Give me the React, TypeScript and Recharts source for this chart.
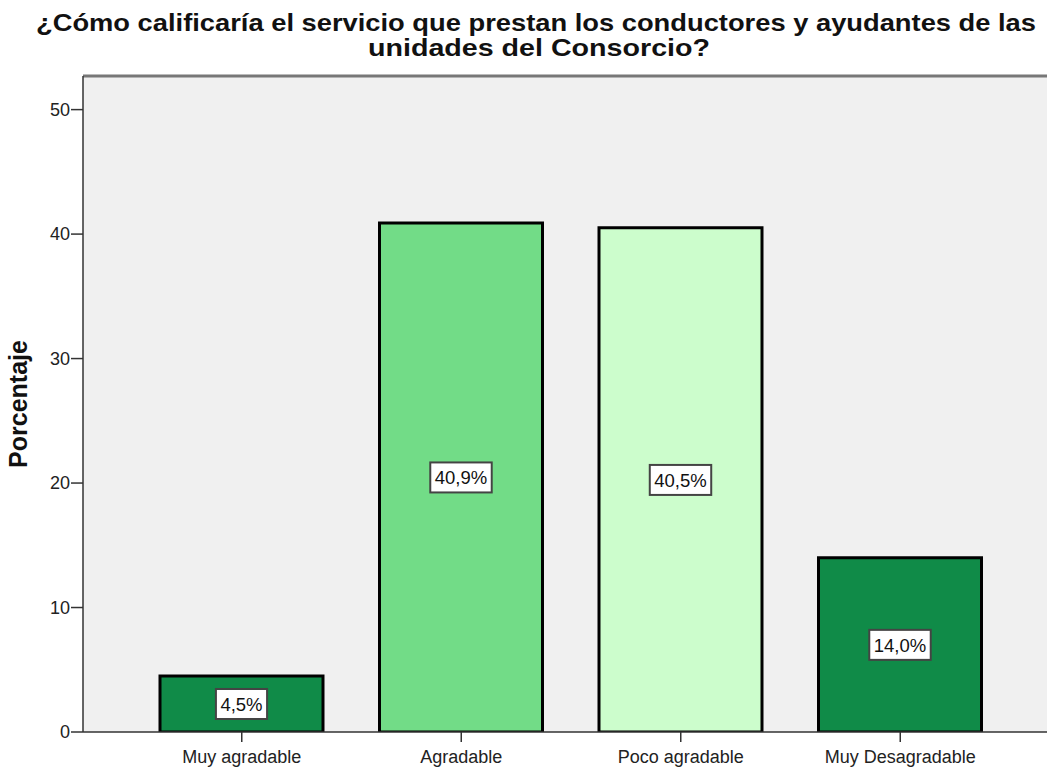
import React from 'react';
import { BarChart, Bar, XAxis, YAxis, CartesianGrid, Cell, LabelList, ReferenceLine } from 'recharts';

const categories = ['Muy agradable', 'Agradable', 'Poco agradable', 'Muy Desagradable'];
const percentages = [4.5, 40.9, 40.5, 14.0];
const barColors = ['#108b48', '#72dc87', '#ccfdcc', '#108b48'];
const yTicks = [0, 10, 20, 30, 40, 50];
const titleLines = [
  '¿Cómo calificaría el servicio que prestan los conductores y ayudantes de las',
  'unidades del Consorcio?',
];
const yAxisTitle = 'Porcentaje';

const data = categories.map((name, i) => ({ name, value: percentages[i] }));

const FONT = '"Liberation Sans", Arial, Helvetica, sans-serif';
const Y_MAX = 52.7;

const charW: Record<string, number> = { ',': 0.278, '%': 0.889 };
const measure = (s: string, size: number) =>
  s.split('').reduce((acc, c) => acc + (charW[c] ?? 0.556), 0) * size;

const fmt = (v: number) => v.toFixed(1).replace('.', ',') + '%';

const renderLabel = (props: any) => {
  const { x, y, width, height, value } = props;
  const text = fmt(Number(value));
  const fs = 18.5;
  const tw = measure(text, fs);
  const bw = tw + 9;
  const bh = 30;
  const cx = Number(x) + Number(width) / 2;
  const cy = Number(y) + Number(height) / 2;
  return (
    <g>
      <rect x={cx - bw / 2} y={cy - bh / 2} width={bw} height={bh} fill="#ffffff" stroke="#444" strokeWidth={2} />
      <text x={cx} y={cy + fs * 0.36} textAnchor="middle" fontSize={fs} fontFamily={FONT} fill="#111">
        {text}
      </text>
    </g>
  );
};

export default function App() {
  return (
    <div style={{ position: 'absolute', left: 0, top: 0, width: 1047, height: 767, overflow: 'hidden', background: '#fff' }}>
      <div style={{ position: 'absolute', left: 0, top: 0 }}>
        <BarChart
          width={1070}
          height={767}
          data={data}
          margin={{ top: 76, right: 11, bottom: 5, left: 23 }}
        >
          <CartesianGrid fill="#f0f0f0" horizontal={false} vertical={false} />
          <XAxis
            dataKey="name"
            padding={{ left: 49, right: 49 }}
            tickSize={10}
            tickMargin={8}
            stroke="#333"
            tick={{ fill: '#222', fontSize: 18, fontFamily: FONT }}
            tickLine={{ stroke: '#333', strokeWidth: 1.5 }}
            axisLine={{ stroke: '#333', strokeWidth: 1.5 }}
            interval={0}
          />
          <YAxis
            width={60}
            domain={[0, Y_MAX]}
            ticks={yTicks}
            allowDataOverflow
            tickSize={12}
            tickMargin={1}
            tick={{ fill: '#222', fontSize: 18, fontFamily: FONT }}
            tickLine={{ stroke: '#333', strokeWidth: 1.5 }}
            axisLine={{ stroke: '#333', strokeWidth: 1.5 }}
          />
          <ReferenceLine y={Y_MAX} stroke="#777" strokeWidth={3} ifOverflow="visible" />
          <Bar dataKey="value" barSize={163} stroke="#000" strokeWidth={3} isAnimationActive={false}>
            {data.map((d, i) => (
              <Cell key={d.name} fill={barColors[i]} />
            ))}
            <LabelList dataKey="value" content={renderLabel} />
          </Bar>
        </BarChart>
      </div>
      <svg width={1047} height={767} style={{ position: 'absolute', left: 0, top: 0, pointerEvents: 'none' }}>
        <text
          x={36}
          y={31}
          textLength={1000}
          lengthAdjust="spacingAndGlyphs"
          fontSize={24}
          fontWeight="bold"
          fontFamily={FONT}
          fill="#111"
        >
          {titleLines[0]}
        </text>
        <text
          x={368}
          y={56}
          textLength={342}
          lengthAdjust="spacingAndGlyphs"
          fontSize={24}
          fontWeight="bold"
          fontFamily={FONT}
          fill="#111"
        >
          {titleLines[1]}
        </text>
        <text
          x={27}
          y={404}
          textAnchor="middle"
          fontSize={25}
          fontWeight="bold"
          fontFamily={FONT}
          fill="#111"
          transform="rotate(-90, 27, 404)"
        >
          {yAxisTitle}
        </text>
      </svg>
    </div>
  );
}
